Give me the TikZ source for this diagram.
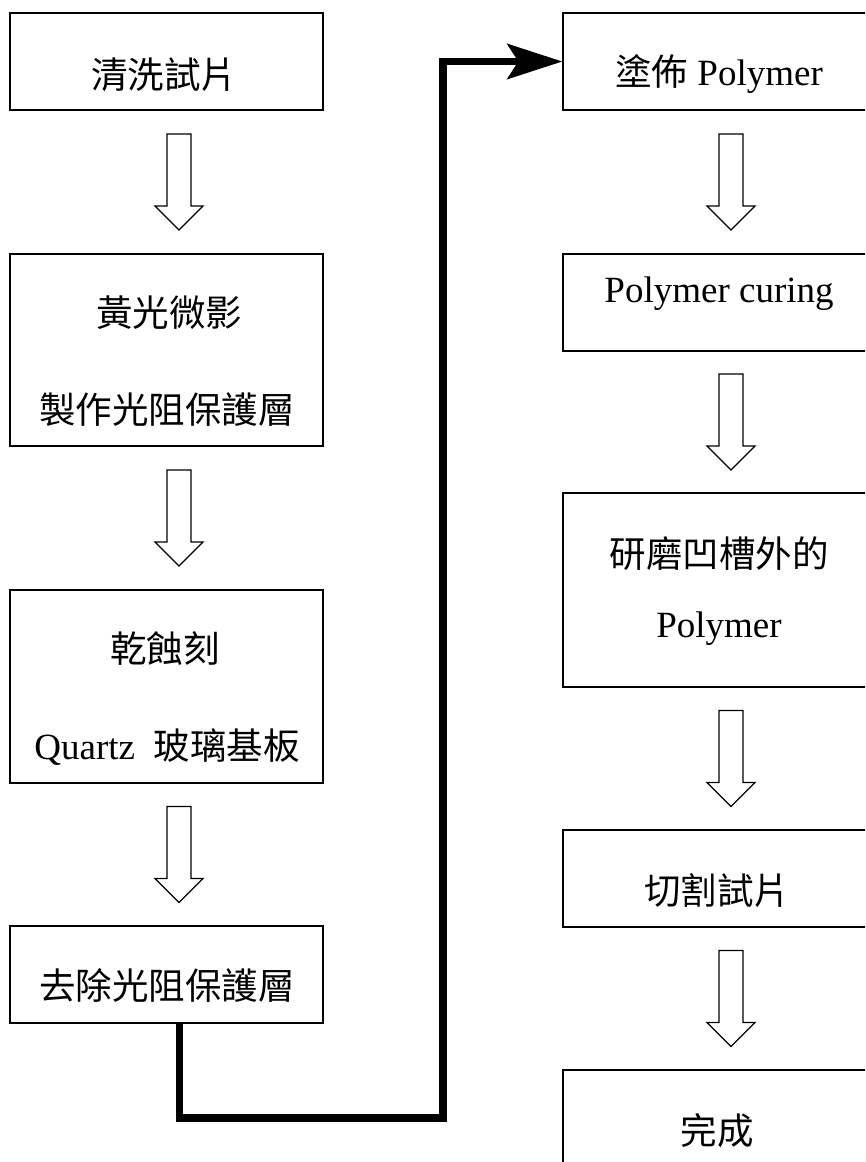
\documentclass[tikz,border=0pt]{standalone}
\usepackage{fontspec}
\setmainfont{Liberation Serif}
\newfontfamily\cjk{Noto Sans CJK TC}
\usetikzlibrary{arrows.meta,calc}
\newcommand\zh[1]{{\cjk\fontsize{36.5}{40}\selectfont #1}}
\begin{document}
\begin{tikzpicture}[x=1pt,y=-1pt,
  box/.style={draw,line width=1.2pt,rectangle,inner sep=0pt,minimum width=313pt},
  txt/.style={anchor=base,inner sep=0pt,font=\fontsize{37}{40}\selectfont},
  conn/.style={line width=7.5pt,line join=miter,-{Stealth[length=55pt,width=35pt,inset=11pt]}},
  downarrow/.pic={\draw[line width=1.1pt,fill=white] (-12,-48) -- (12,-48) -- (12,24) -- (24,24) -- (0,48) -- (-24,24) -- (-12,24) -- cycle;}]
\clip (0,0) rectangle (865,1162);
\fill[white] (0,0) rectangle (865,1162);
% left column
\node[box,minimum height=97pt]  (b1) at (166.5,61.5) {};
\node[box,minimum height=192pt] (b2) at (166.5,350) {};
\node[box,minimum height=193pt] (b3) at (166.5,686.5) {};
\node[box,minimum height=97pt]  (b4) at (166.5,974.5) {};
% right column
\node[box,minimum height=97pt]  (r1) at (719.5,61.5) {};
\node[box,minimum height=97pt]  (r2) at (719.5,302.5) {};
\node[box,minimum height=194pt] (r3) at (719.5,590) {};
\node[box,minimum height=97pt]  (r4) at (719.5,878.5) {};
\node[box,minimum height=97pt]  (r5) at (719.5,1118.5) {};
% texts
\node[txt] (t1)  at (164,88)   {\zh{清洗試片}};
\node[txt] (t2a) at (169,326)  {\zh{黃光微影}};
\node[txt] (t2b) at (167,423)  {\zh{製作光阻保護層}};
\node[txt] (t3a) at (165,662)  {\zh{乾蝕刻}};
\node[txt] (t3b) at (167,759)  {Quartz\ \ \zh{玻璃基板}};
\node[txt] (t4)  at (167,999)  {\zh{去除光阻保護層}};
\node[txt] (r1t) at (719,85)   {\zh{塗佈} Polymer};
\node[txt] (r2t) at (719,302)  {Polymer curing};
\node[txt] (r3a) at (719,567)  {\zh{研磨凹槽外的}};
\node[txt] (r3b) at (719,637)  {Polymer};
\node[txt] (r4t) at (717,904)  {\zh{切割試片}};
\node[txt] (r5t) at (717,1144) {\zh{完成}};
% hollow block arrows
\pic at ($(b1.south)!0.5!(b2.north)+(12.5,0)$) {downarrow};
\pic at ($(b2.south)!0.5!(b3.north)+(12.5,0)$) {downarrow};
\pic at ($(b3.south)!0.5!(b4.north)+(12.5,0)$) {downarrow};
\pic at ($(r1.south)!0.5!(r2.north)+(11.5,0)$) {downarrow};
\pic at ($(r2.south)!0.5!(r3.north)+(11.5,0)$) {downarrow};
\pic at ($(r3.south)!0.5!(r4.north)+(11.5,0)$) {downarrow};
\pic at ($(r4.south)!0.5!(r5.north)+(11.5,0)$) {downarrow};
% thick connector
\coordinate (c1) at (443,1118);
\draw[conn] ([xshift=13pt]b4.south) |- (c1) |- (r1.west);
\end{tikzpicture}
\end{document}
